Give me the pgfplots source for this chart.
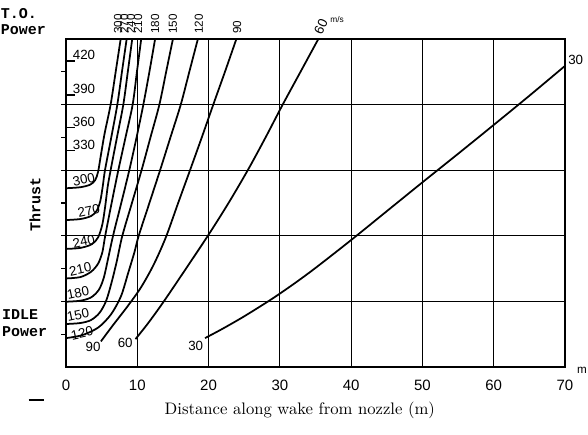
\documentclass[border=0pt]{standalone}
\usepackage{pgfplots}
\pgfplotsset{compat=1.18}
\usepackage{fontspec}
\setmonofont{Liberation Mono}
\setsansfont{Liberation Sans}
\newcommand{\thr}[2]{%
  \draw[line width=0.7pt] (axis cs:0,#2) -- (axis cs:1.3,#2);
  \node[anchor=south west, inner sep=0.5pt, font=\sffamily\footnotesize] at (axis cs:0.8,#2) {#1};}
\newcommand{\stl}[3]{\node[font=\sffamily\footnotesize, rotate=12, inner sep=0pt] at (axis cs:#2,#3) {#1};}
\newcommand{\tpl}[2]{\node[font=\sffamily\scriptsize, rotate=90, anchor=west, inner sep=0pt] at ([yshift=3pt]axis cs:#2,10) {#1};}
\pgfplotsset{cv/.style={black, solid, line width=1.05pt, no markers, smooth, tension=0.5}}
\begin{document}
\begin{tikzpicture}
\begin{axis}[
  scale only axis, width=299.4pt, height=196.8pt,
  at={(0,0)}, anchor=south west,
  xmin=0, xmax=70, ymin=0, ymax=10,
  clip=false,
  axis line style={line width=1.1pt},
  xtick={0,10,...,70},
  xmajorgrids=true,
  major grid style={line width=0.7pt, black},
  xtick style={draw=none},
  xticklabel style={font=\sffamily\small, yshift=-1pt},
  /pgf/number format/assume math mode=true,
  ytick={1,3,5,7,9},
  extra y ticks={2,4,6,8},
  extra y tick style={ymajorgrids=true},
  extra y tick labels={},
  yticklabels={},
  ytick pos=left,
  tick align=outside,
  major tick length=3pt,
  ytick style={line width=0.8pt, black},
]
% velocity contours (m/s)
\addplot[cv] coordinates {(0,5.45)(2,5.48)(3.4,5.56)(4.1,5.7)(4.5,5.95)(4.85,6.4)(5.4,7.1)(6.26,8)(6.97,9)(7.67,10)};
\addplot[cv] coordinates {(0,4.48)(2,4.51)(3.5,4.6)(4.3,4.76)(4.8,5.05)(5.15,5.5)(5.47,6)(6.35,7)(7.2,8)(7.85,9)(8.51,10)};
\addplot[cv] coordinates {(0,3.6)(2,3.63)(3.6,3.74)(4.5,3.95)(5.1,4.35)(5.5,4.9)(5.85,5.5)(6.26,6)(7.15,7)(8.04,8)(8.67,9)(9.29,10)};
\addplot[cv] coordinates {(0,2.70)(2,2.74)(3.5,2.9)(4.5,3.15)(5.1,3.5)(5.5,4.0)(6.4,5)(7.34,6)(8.35,7)(9.35,8)(9.95,9)(10.55,10)};
\addplot[cv] coordinates {(0,1.99)(2,2.02)(3.5,2.12)(4.6,2.35)(5.3,2.72)(5.9,3.3)(6.6,4)(7.75,5)(8.88,6)(9.9,7)(10.85,8)(11.7,9)(12.5,10)};
\addplot[cv] coordinates {(0,1.31)(2,1.34)(3.5,1.43)(4.7,1.65)(5.6,2.0)(6.3,2.5)(7.1,3.2)(7.9,4)(9.25,5)(10.6,6)(11.85,7)(13.1,8)(14.05,9)(15,10)};
\addplot[cv] coordinates {(0,0.88)(2.25,0.97)(4.5,1.2)(6.3,1.6)(7.7,2.15)(8.7,2.85)(9.6,3.5)(10.2,4)(11.7,5)(13.2,6)(14.65,7)(16.1,8)(17.3,9)(18.5,10)};
\addplot[cv] coordinates {(4.9,0.78)(6.4,1.22)(8.6,1.84)(10.5,2.42)(12.3,3.12)(14.0,3.95)(15.7,4.98)(17.4,6)(19.05,7)(20.66,8)(22.3,9)(23.9,10)};
\addplot[cv] coordinates {(9.75,0.85)(11.5,1.33)(13.5,1.93)(16,2.73)(19.9,4)(22.8,5)(25.5,6)(28,7)(30.4,8)(32.9,9)(35.4,10)};
\addplot[cv] coordinates {(19.5,0.88)(22,1.17)(25,1.545)(28.85,2.07)(32,2.54)(35,3.02)(40,3.87)(45,4.75)(50,5.63)(55,6.5)(60,7.38)(65,8.27)(70,9.18)};

% thrust labels along the left
\thr{420}{9.33}
\thr{390}{8.29}
\thr{360}{7.29}
\thr{330}{6.59}
% labels at curve starts
\stl{300}{2.5}{5.72}
\stl{270}{3.2}{4.75}
\stl{240}{2.5}{3.83}
\stl{210}{2.0}{2.98}
\stl{180}{1.7}{2.25}
\stl{150}{1.7}{1.58}
\stl{120}{2.25}{1.03}
\node[font=\sffamily\footnotesize, inner sep=0pt] at (axis cs:3.8,0.6) {90};
\node[font=\sffamily\footnotesize, inner sep=0pt] at (axis cs:8.3,0.73) {60};
\node[font=\sffamily\footnotesize, inner sep=0pt] at (axis cs:18.2,0.64) {30};
% labels at the top
\tpl{300}{7.3}
\tpl{270}{8.2}
\tpl{240}{9.1}
\tpl{210}{10.1}
\tpl{180}{12.5}
\tpl{150}{15.0}
\tpl{120}{18.65}
\tpl{90}{24.0}
\node[font=\sffamily\footnotesize, rotate=65, anchor=west, inner sep=0pt] (v60) at ([yshift=3pt]axis cs:35.3,10) {60};
\node[font=\sffamily\tiny, anchor=west, inner sep=0pt] at ([xshift=3.5pt]v60.east) {m/s};
\node[font=\sffamily\footnotesize, inner sep=0pt] at (axis cs:71.5,9.35) {30};
\node[font=\sffamily\scriptsize, inner sep=0pt] at (axis cs:72.4,-0.1) {m};

% side annotations
\node[font=\ttfamily\bfseries\small, align=left, inner sep=0pt, anchor=west, text width=40pt] at (axis cs:-9.2,10.53) {T.O.\\[-1pt]Power};
\node[font=\ttfamily\bfseries\small, align=left, inner sep=0pt, anchor=west, text width=40pt] at (axis cs:-9.0,1.33) {IDLE\\[-1pt]Power};
\node[font=\ttfamily\bfseries\small, rotate=90, inner sep=0pt] at (axis cs:-4.35,4.95) {Thrust};
\node[font=\normalsize, inner sep=0pt] at (axis cs:32.8,-1.31) {Distance along wake from nozzle (m)};
\node[inner sep=0pt] at (axis cs:-4.2,-1.0) {\rule{9pt}{1.3pt}};
\end{axis}
\path[use as bounding box] (-39.6pt,-40.8pt) rectangle (313.2pt,220.2pt);
\end{tikzpicture}
\end{document}
